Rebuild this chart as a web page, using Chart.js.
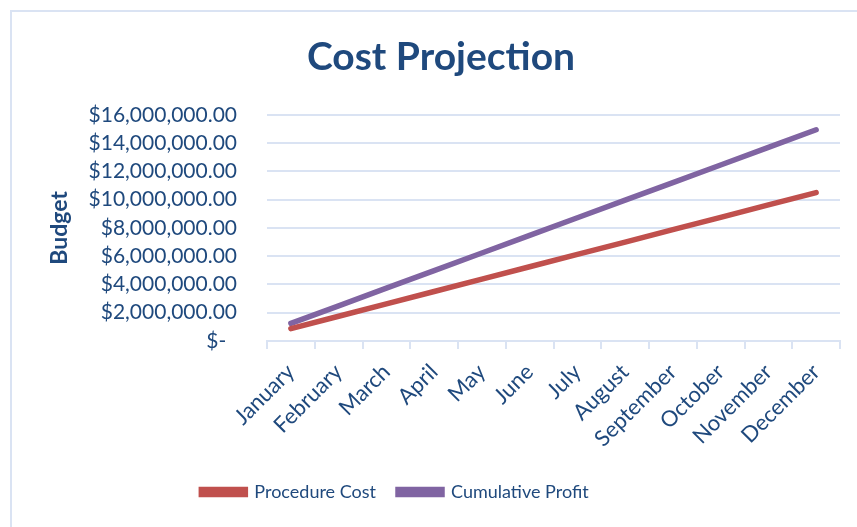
<!DOCTYPE html>
<html>
<head>
<meta charset="utf-8">
<script src="https://cdn.jsdelivr.net/npm/chart.js@4/dist/chart.umd.min.js"></script>
<style>
  html, body { margin: 0; padding: 0; background: #fff; overflow: hidden; }
  #wrap { position: relative; width: 857px; height: 527px; }
  #frame {
    position: absolute; left: 10px; top: 10px; width: 900px; height: 600px;
    border-left: 2px solid #DAE3F3; border-top: 2px solid #DAE3F3;
  }
  canvas { position: absolute; left: 0; top: 0; }
</style>
</head>
<body>
<div id="wrap">
  <div id="frame"></div>
  <canvas id="costChart" width="857" height="527"></canvas>
</div>
<script>
// Chart data
const months = ["January", "February", "March", "April", "May", "June",
  "July", "August", "September", "October", "November", "December"];
const procedureCost = [875000, 1750000, 2625000, 3500000, 4375000, 5250000,
  6125000, 7000000, 7875000, 8750000, 9625000, 10500000];
const cumulativeProfit = [1245000, 2490000, 3735000, 4980000, 6225000, 7470000,
  8715000, 9960000, 11205000, 12450000, 13695000, 14940000];
const yMax = 16000000;
const yStep = 2000000;

const TEXT = "#1F497D";
const GRID = "#DAE3F3";
const FONT = "Lato, 'Open Sans', sans-serif";

function money(v) {
  if (v === 0) return "$-  ";
  return "$" + v.toLocaleString("en-US", { minimumFractionDigits: 2, maximumFractionDigits: 2 });
}

// legend sits left of the centre in the original, nudge it over
const legendShift = {
  id: "legendShift",
  beforeDraw(chart) {
    const lg = chart.legend;
    if (lg && !lg._shifted) {
      lg.left -= 46;
      lg.right -= 46;
      lg._shifted = true;
    }
  }
};

const ctx = document.getElementById("costChart");
const chart = new Chart(ctx, {
  type: "line",
  data: {
    labels: months,
    datasets: [
      {
        label: "Procedure Cost",
        data: procedureCost,
        borderColor: "#C0504D",
        backgroundColor: "#C0504D",
        borderWidth: 5.5,
        borderCapStyle: "round",
        pointRadius: 0,
        tension: 0
      },
      {
        label: "Cumulative Profit",
        data: cumulativeProfit,
        borderColor: "#8064A2",
        backgroundColor: "#8064A2",
        borderWidth: 5.5,
        borderCapStyle: "round",
        pointRadius: 0,
        tension: 0
      }
    ]
  },
  plugins: [legendShift],
  options: {
    responsive: false,
    animation: false,
    layout: { padding: { left: 42, right: 17, top: 0, bottom: 16 } },
    plugins: {
      title: {
        display: true,
        text: "Cost Projection",
        color: TEXT,
        font: { family: FONT, size: 39, weight: "bold" },
        padding: { top: 34, bottom: 34 }
      },
      legend: {
        position: "bottom",
        labels: {
          color: TEXT,
          font: { family: FONT, size: 18 },
          boxWidth: 44,
          boxHeight: 5,
          padding: 22
        }
      },
      tooltip: { enabled: false }
    },
    scales: {
      x: {
        offset: true,
        afterFit(scale) { scale.height = 120; },
        grid: {
          offset: true,
          drawOnChartArea: false,
          color: GRID,
          lineWidth: 2,
          tickLength: 8
        },
        border: { color: GRID, width: 2 },
        ticks: {
          color: TEXT,
          font: { family: FONT, size: 22 },
          minRotation: 45,
          maxRotation: 45,
          autoSkip: false,
          padding: 10
        }
      },
      y: {
        min: 0,
        max: yMax,
        afterFit(scale) { scale.width = 225; },
        grid: { color: GRID, lineWidth: 2, drawTicks: false },
        border: { display: false },
        ticks: {
          stepSize: yStep,
          color: TEXT,
          font: { family: FONT, size: 21 },
          padding: 30,
          callback: (v) => money(v)
        },
        title: {
          display: true,
          text: "Budget",
          color: TEXT,
          font: { family: FONT, size: 23, weight: "bold" }
        }
      }
    }
  }
});
</script>
</body>
</html>
